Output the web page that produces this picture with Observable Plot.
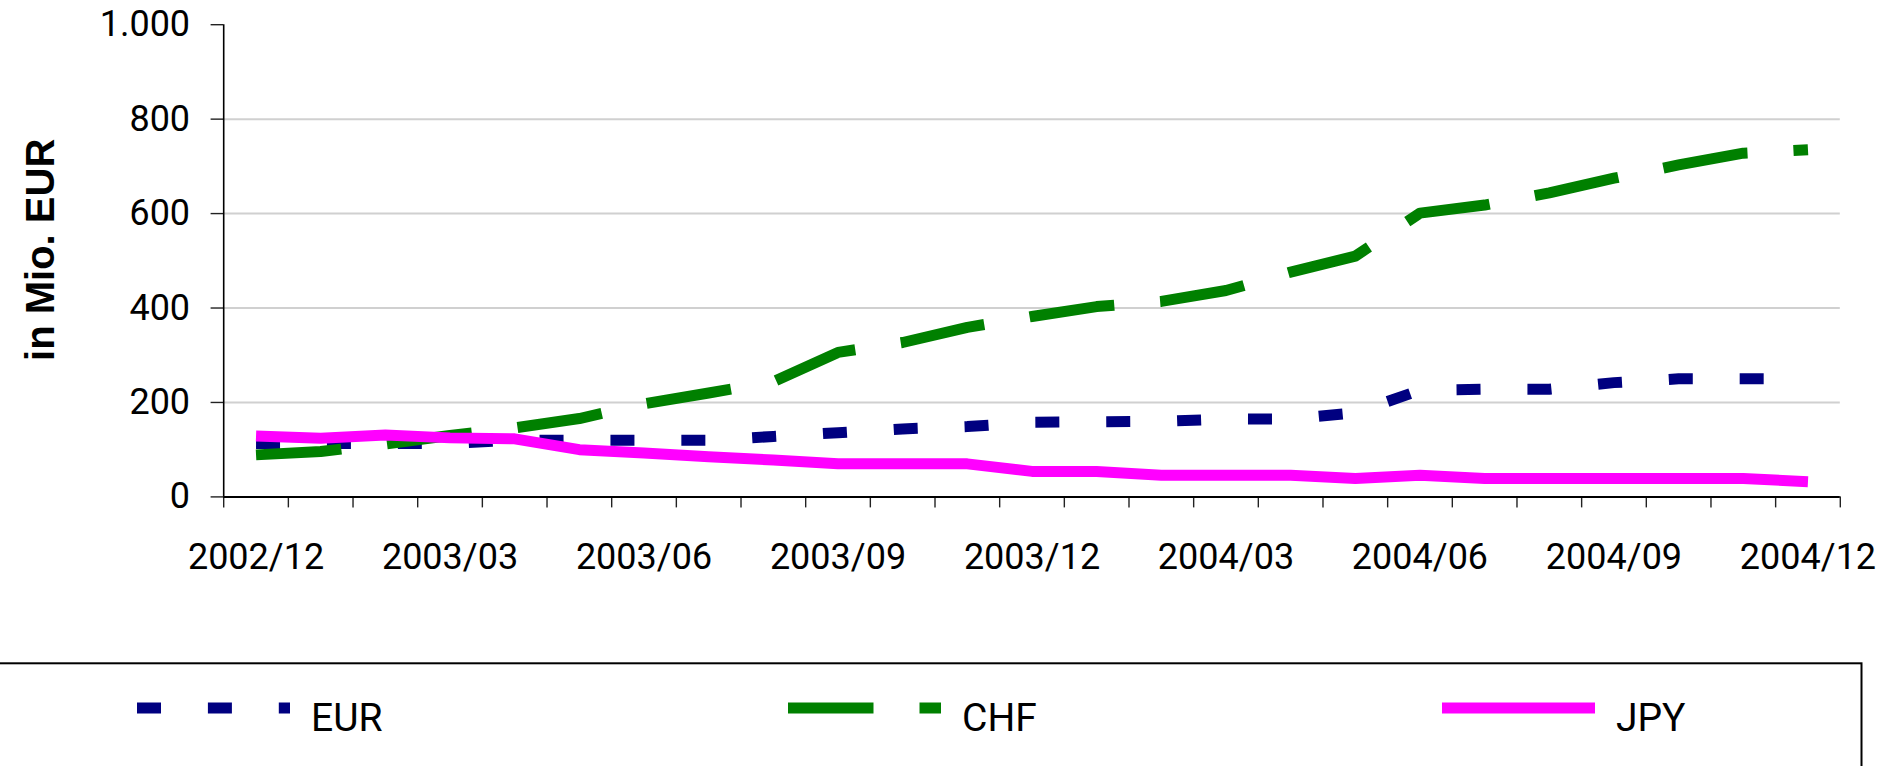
<!DOCTYPE html>
<html>
<head>
<meta charset="utf-8">
<script src="https://cdn.jsdelivr.net/npm/d3@7"></script>
<script src="https://cdn.jsdelivr.net/npm/@observablehq/plot@0.6"></script>
<style>
  html, body { margin: 0; padding: 0; background: #fff; }
  body { width: 1899px; height: 766px; overflow: hidden; position: relative; }
  #chart svg, #legend svg { display: block; }
</style>
</head>
<body>
<div id="chart"></div>
<div id="legend"></div>
<script>
// ---- data ----
const months = ["2002/12","2003/01","2003/02","2003/03","2003/04","2003/05","2003/06","2003/07","2003/08",
  "2003/09","2003/10","2003/11","2003/12","2004/01","2004/02","2004/03","2004/04","2004/05","2004/06",
  "2004/07","2004/08","2004/09","2004/10","2004/11","2004/12"];
const eur = [113,113,113,113,120,120,120,120,128,136,144,149,158,159,160,165,165,178,226,228,228,242,250,250,250];
const chf = [89,96,112,130,146,166,197,220,244,306,327,359,382,403,414,437,476,510,601,618,644,675,703,728,735];
const jpy = [129,124,131,125,123,100,93,85,78,70,70,70,54,54,46,46,46,39,46,39,39,39,39,39,32];
const seriesNames = ["EUR", "CHF", "JPY"];
const seriesColors = ["#000080", "#008000", "#FF00FF"];
const seriesDash = ["24,46.9", "85.5,46", null];
const yTicks = [0, 200, 400, 600, 800, 1000];
const gridTicks = [200, 400, 600, 800];
const labelStep = 3;
const yTitle = "in Mio. EUR";

// ---- build ----
const values = [eur, chf, jpy];
const rows = [];
seriesNames.forEach((s, k) => months.forEach((m, i) => rows.push({series: s, i, month: m, value: values[k][i]})));
const boundaries = d3.range(months.length + 1);
const labelTicks = d3.range(0, months.length, labelStep).map(i => i + 0.5);
const fmt = d3.formatLocale({decimal: ",", thousands: ".", grouping: [3], currency: ["", "€"]}).format(",d");

const W = 1899, H = 640;
const font = "Roboto, 'Liberation Sans', sans-serif";

const lineMarks = seriesNames.map((s, k) => Plot.line(rows.filter(d => d.series === s), {
  x: d => d.i + 0.5, y: "value",
  stroke: seriesColors[k], strokeWidth: 11,
  strokeDasharray: seriesDash[k] || undefined,
  strokeLinecap: "butt", strokeLinejoin: "round"
}));

const chart = Plot.plot({
  width: W, height: H,
  marginLeft: 223.2, marginRight: W - 1839.8,
  marginTop: 24.2, marginBottom: H - 496.4,
  style: {fontFamily: font, fontSize: "36px", background: "#fff", color: "#000", overflow: "visible"},
  x: {type: "linear", domain: [0, months.length], label: null},
  y: {type: "linear", domain: [0, 1000], label: null},
  marks: [
    Plot.gridY(gridTicks, {stroke: "#d0d0d0", strokeOpacity: 1, strokeWidth: 2}),
    Plot.axisY(yTicks, {tickFormat: fmt, tickSize: 12.6, tickPadding: 21, fontSize: 36, stroke: "#222", strokeWidth: 1.4, label: null}),
    Plot.axisX(boundaries, {tickFormat: () => "", tickSize: 11, stroke: "#222", strokeWidth: 1.4, label: null}),
    Plot.axisX(labelTicks, {tickFormat: t => months[Math.floor(t)], tickSize: 0, tickPadding: 47, fontSize: 36, label: null}),
    Plot.ruleX([0], {y1: 0, y2: 1000, stroke: "#000", strokeWidth: 1.6}),
    Plot.ruleY([0], {x1: 0, x2: months.length, stroke: "#000", strokeWidth: 2}),
    ...lineMarks,
    Plot.text([yTitle], {frameAnchor: "left", textAnchor: "middle", lineAnchor: "middle", rotate: -90, dx: -183, dy: -11,
      fontSize: 40, fontWeight: "bold", fontFamily: "'Liberation Sans', Arial, sans-serif", fill: "#000"})
  ]
});
document.getElementById("chart").appendChild(chart);

// ---- legend (below the plot svg) ----
const LH = 766 - H;
const lg = d3.create("svg").attr("width", W).attr("height", LH);
lg.append("rect").attr("x", -4).attr("y", 23.3).attr("width", 1865.5).attr("height", 200)
  .attr("fill", "none").attr("stroke", "#000").attr("stroke-width", 2);
const legendX = [137, 788, 1442];
seriesNames.forEach((s, k) => {
  const x0 = legendX[k];
  lg.append("line").attr("x1", x0).attr("x2", x0 + 153).attr("y1", 68).attr("y2", 68)
    .attr("stroke", seriesColors[k]).attr("stroke-width", 11)
    .attr("stroke-dasharray", seriesDash[k] || null).attr("stroke-linecap", "butt");
  lg.append("text").attr("x", x0 + 174).attr("y", 91).text(s)
    .attr("font-family", font).attr("font-size", 39).attr("fill", "#000");
});
document.getElementById("legend").appendChild(lg.node());
</script>
</body>
</html>
